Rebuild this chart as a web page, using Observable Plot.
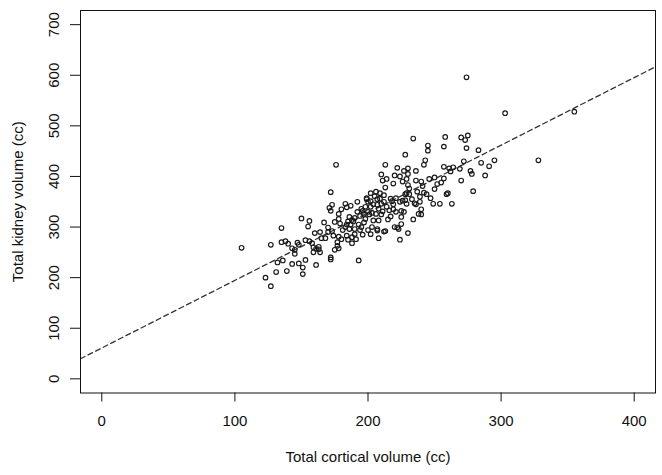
<!DOCTYPE html>
<html>
<head>
<meta charset="utf-8">
<script src="https://cdn.jsdelivr.net/npm/d3@7"></script>
<script src="https://cdn.jsdelivr.net/npm/@observablehq/plot@0.6"></script>
<style>
  html, body { margin: 0; padding: 0; background: #fff; }
  #chart { width: 662px; height: 475px; }
</style>
</head>
<body>
<div id="chart"></div>
<script>
// Total cortical volume (cc)
const cortical = [
  274,303,355,328,105,176,193,127,123,131,127,135,132,136,135,139,140,143,145,145,
  147,148,150,151,151,153,153,148,156,155,156,159,159,161,160,164,161,163,164,163,
  165,167,170,171,172,173,172,172,172,173,174,175,175,177,177,178,178,178,179,180,
  178,181,183,184,184,185,184,185,186,187,187,188,188,189,190,190,192,192,191,194,
  194,195,196,197,198,197,199,199,200,200,201,202,202,202,203,204,205,206,206,207,
  207,207,208,208,209,209,210,210,211,211,212,212,213,213,213,214,215,216,217,218,
  219,219,220,221,222,222,223,224,224,224,225,225,227,228,227,228,229,229,229,230,
  230,230,231,230,231,234,234,235,236,236,237,238,239,240,240,241,242,243,244,245,
  245,246,247,249,250,250,254,255,257,257,258,257,259,260,261,263,264,269,270,270,
  272,273,274,275,277,278,279,283,285,288,291,295,
  183,186,190,193,195,198,200,202,204,207,208,210,212,214,217,219,221,226,228,233,
  236,239,242,252,220,225,168,170,158,143,138,180,196,203,188,226,240,262
];
// Total kidney volume (cc)
const kidney = [
  596,525,528,432,259,423,234,183,200,211,265,298,230,234,270,213,267,227,255,247,
  269,228,317,220,207,274,235,265,312,301,272,260,250,225,288,290,257,256,250,261,
  278,309,299,338,369,344,332,240,236,292,283,310,255,263,270,281,316,326,307,276,
  258,294,346,339,305,311,283,275,296,342,305,314,268,311,296,286,330,350,276,322,
  294,336,332,309,316,326,355,357,350,294,325,367,351,286,328,313,361,370,326,344,
  293,296,278,313,367,356,404,346,392,331,363,291,292,423,378,395,315,333,321,351,
  386,335,402,357,417,299,296,400,275,350,306,332,411,443,330,353,395,367,346,405,
  416,383,376,288,365,315,475,347,411,392,370,326,350,335,325,381,423,432,365,461,
  451,395,357,346,375,398,346,388,419,459,478,396,365,367,416,346,418,415,477,392,
  430,472,456,481,411,405,371,452,427,402,420,432,
  300,320,318,305,300,340,330,340,345,355,336,325,350,340,356,345,330,352,365,355,
  345,360,368,385,300,320,278,290,268,258,272,335,285,300,280,390,390,410
];
const xTicks = [0, 100, 200, 300, 400];
const yTicks = [0, 100, 200, 300, 400, 500, 600, 700];
const xLimits = [0, 400];
const yLimits = [0, 700];
const fitIntercept = 61;
const fitSlope = 1.336;
const xTitle = "Total cortical volume (cc)";
const yTitle = "Total kidney volume (cc)";

const points = cortical.map((c, i) => ({x: c, y: kidney[i]}));
// R-style 4% axis extension
const ext = (l) => { const p = (l[1] - l[0]) * 0.04; return [l[0] - p, l[1] + p]; };
const xDomain = ext(xLimits);
const yDomain = ext(yLimits);
const fitLine = xDomain.map(x => ({x, y: fitIntercept + fitSlope * x}));

const font = "'Liberation Sans', Arial, Helvetica, sans-serif";

const chart = Plot.plot({
  width: 662,
  height: 475,
  marginLeft: 80,
  marginRight: 7,
  marginTop: 10,
  marginBottom: 82.5,
  style: {fontFamily: font, background: "#fff", color: "#111"},
  x: {domain: xDomain, axis: null},
  y: {domain: yDomain, axis: null},
  marks: [
    Plot.line(fitLine, {x: "x", y: "y", stroke: "#333", strokeWidth: 1.3, strokeDasharray: "5,3.5", clip: true}),
    Plot.dot(points, {x: "x", y: "y", r: 2.3, stroke: "#1a1a1a", strokeWidth: 1.15, fill: "none"}),
    Plot.frame({stroke: "#111", strokeWidth: 1}),
    Plot.axisX({ticks: xTicks, tickSize: 9, tickFormat: () => "", label: null, stroke: "#111"}),
    Plot.axisY({ticks: yTicks, tickSize: 10, tickFormat: () => "", label: null, stroke: "#111"}),
    Plot.text(xTicks, {x: d => d, frameAnchor: "bottom", dy: 28, text: d => String(d), fontSize: 15, fill: "#111", lineAnchor: "middle"}),
    Plot.text(yTicks, {y: d => d, frameAnchor: "left", dx: -26, text: d => String(d), fontSize: 15, fill: "#111", rotate: -90, textAnchor: "middle", lineAnchor: "middle"}),
    Plot.text([xTitle], {frameAnchor: "bottom", dy: 64.5, text: d => d, fontSize: 15, fill: "#111", lineAnchor: "middle"}),
    Plot.text([yTitle], {frameAnchor: "left", dx: -62.5, text: d => d, fontSize: 15, fill: "#111", rotate: -90, textAnchor: "middle", lineAnchor: "middle"})
  ]
});
document.getElementById("chart").appendChild(chart);
</script>
</body>
</html>
